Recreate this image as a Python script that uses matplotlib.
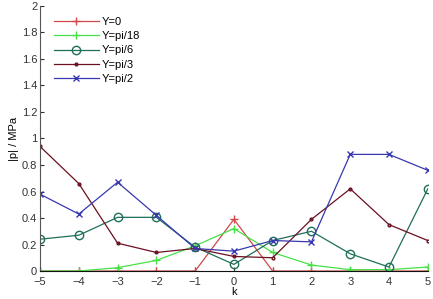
import matplotlib
matplotlib.use('Agg')
import matplotlib.pyplot as plt

plt.rcParams['font.family'] = ['Liberation Sans', 'DejaVu Sans']

k = [-5, -4, -3, -2, -1, 0, 1, 2, 3, 4, 5]

# |p| values, MPa
p_y0 = [0, 0, 0, 0, 0, 0.39, 0, 0, 0, 0, 0]
p_pi18 = [0, 0, 0.025, 0.08, 0.19, 0.32, 0.14, 0.045, 0.01, 0.01, 0.03]
p_pi6 = [0.24, 0.27, 0.405, 0.405, 0.18, 0.05, 0.23, 0.30, 0.13, 0.03, 0.62]
p_pi3 = [0.94, 0.66, 0.21, 0.14, 0.17, 0.11, 0.10, 0.39, 0.62, 0.35, 0.23]
p_pi2 = [0.58, 0.43, 0.67, 0.42, 0.17, 0.15, 0.23, 0.22, 0.88, 0.88, 0.76]

labels = ['Y=0', 'Y=pi/18', 'Y=pi/6', 'Y=pi/3', 'Y=pi/2']
series = [p_y0, p_pi18, p_pi6, p_pi3, p_pi2]
colors = ['#d04848', '#48e048', '#1f6f5a', '#6a1020', '#3838b0']
markers = ['+', '+', 'o', '.', 'x']
msizes = [6, 6, 6, 4, 4]

fig = plt.figure(figsize=(4.33, 2.99), dpi=100)
ax = fig.add_axes([0.0924, 0.0936, 0.8956, 0.8864])

for vals, lab, c, m, ms in zip(series, labels, colors, markers, msizes):
    ax.plot(k, vals, color=c, marker=m, markersize=ms, markerfacecolor='none',
            markeredgecolor=c, linewidth=0.9, label=lab)

ax.set_xlim(-5, 5)
ax.set_ylim(0, 2)
ax.set_xticks(k)
ax.set_yticks([0, 0.2, 0.4, 0.6, 0.8, 1, 1.2, 1.4, 1.6, 1.8, 2])
ax.set_yticklabels(['0', '0.2', '0.4', '0.6', '0.8', '1', '1.2', '1.4', '1.6', '1.8', '2'])
ax.tick_params(direction='in', labelsize=8, length=3, colors='#333333', pad=2)
ax.tick_params(axis='x', pad=4.5)
ax.spines['top'].set_visible(False)
ax.spines['right'].set_visible(False)
ax.spines['left'].set_color('#555555')
ax.spines['bottom'].set_color('#111111')
ax.set_xlabel('k', fontsize=8, labelpad=0)
ax.set_ylabel('|p| / MPa', fontsize=8, labelpad=2)

ax.legend(loc='upper left', bbox_to_anchor=(0.025, 0.975), frameon=False, fontsize=8,
          handlelength=4, labelspacing=0.38, handletextpad=0.3, borderaxespad=0)

fig.savefig('out.png', dpi=100)
